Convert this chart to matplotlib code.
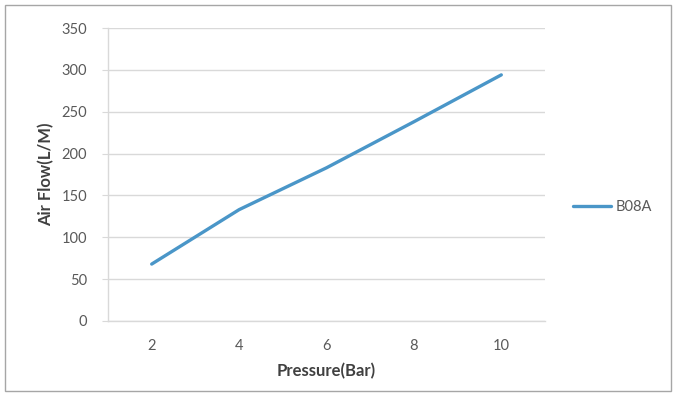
import matplotlib
matplotlib.use("Agg")
import matplotlib.pyplot as plt
from matplotlib.patches import Rectangle

pressure = ["2", "4", "6", "8", "10"]
air_flow = [68, 133, 183, 238, 294]
series_name = "B08A"
y_ticks = [0, 50, 100, 150, 200, 250, 300, 350]

plt.rcParams['font.family'] = ['Lato', 'DejaVu Sans']

fig = plt.figure(figsize=(6.77, 3.99), dpi=100)
fig.patches.append(Rectangle((5/677, 1-391/399), 666/677, 386/399, transform=fig.transFigure,
                             fill=False, edgecolor='#a6a6a6', linewidth=1.0))
ax = fig.add_axes([108/677, 1-321/399, 437/677, 293/399])

x = list(range(len(pressure)))
line, = ax.plot(x, air_flow, color='#4a96c8', linewidth=2.4, solid_capstyle='round')

ax.set_xlim(-0.5, len(pressure) - 0.5)
ax.set_ylim(0, 350)
ax.set_yticks(y_ticks)
ax.set_xticks(x)
ax.set_xticklabels(pressure)
ax.grid(axis='y', color='#d9d9d9', linewidth=1.0)
ax.set_axisbelow(True)
for s in ['top', 'right']:
    ax.spines[s].set_visible(False)
ax.spines['left'].set_color('#d9d9d9')
ax.spines['bottom'].set_color('#d9d9d9')
ax.spines['left'].set_linewidth(1.0)
ax.spines['bottom'].set_linewidth(1.0)
ax.tick_params(axis='y', length=4, color='#d9d9d9', pad=11, labelsize=10.5, labelcolor='#595959')
ax.tick_params(axis='x', length=0, pad=13, labelsize=10.5, labelcolor='#595959')

ax.set_xlabel("Pressure(Bar)", fontsize=12, fontweight='bold', color='#404040', labelpad=7)
ax.set_ylabel("Air Flow(L/M)", fontsize=12, fontweight='bold', color='#404040', labelpad=5)

leg = fig.legend([line], [series_name], loc='center left', bbox_to_anchor=(560/677, 1-207/399),
                 frameon=False, fontsize=10.5, handlelength=2.6, handletextpad=0.3)
for t in leg.get_texts():
    t.set_color('#595959')

fig.savefig("out.png", dpi=100)
